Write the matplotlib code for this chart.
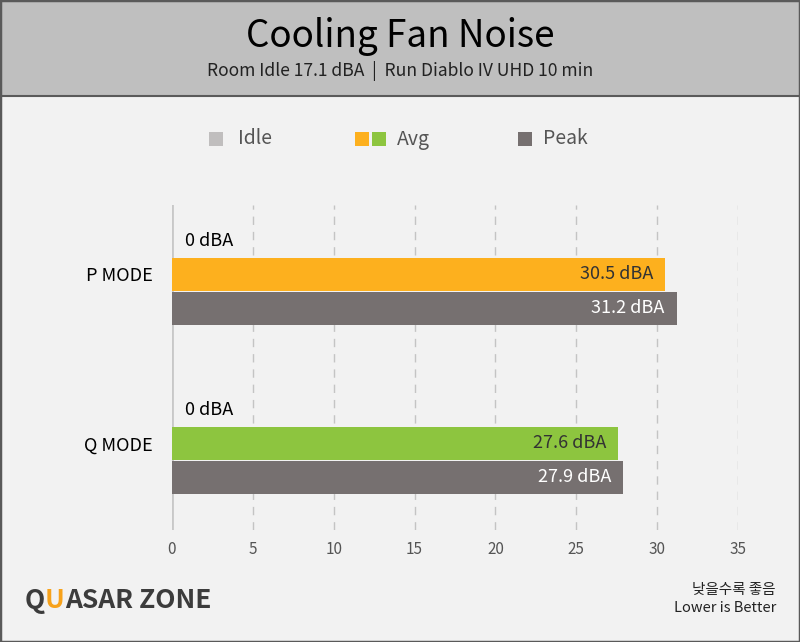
import matplotlib
matplotlib.use("Agg")
import matplotlib.pyplot as plt
from matplotlib.patches import Rectangle

plt.rcParams['font.family'] = ['Noto Sans CJK KR', 'DejaVu Sans']

categories = ["P MODE", "Q MODE"]
idle_vals = [0, 0]
avg_vals = [30.5, 27.6]
peak_vals = [31.2, 27.9]
avg_colors = ["#FDB01E", "#8DC53F"]
peak_color = "#767070"
idle_color = "#C0BEBE"
xticks = [0, 5, 10, 15, 20, 25, 30, 35]

W, H = 800, 642
fig = plt.figure(figsize=(W / 100, H / 100), dpi=100)
fig.patch.set_facecolor("#F2F2F2")

def fx(px):
    return px / W

def fy(py):
    return 1 - py / H

# header band
fig.patches.append(Rectangle((0, fy(96)), 1, 96 / H, transform=fig.transFigure,
                             facecolor="#BFBFBF", edgecolor="none", zorder=0))
fig.lines.append(plt.Line2D([0, 1], [fy(96), fy(96)], transform=fig.transFigure,
                            color="#5A5A5A", lw=1.5))
# outer border
fig.patches.append(Rectangle((0, 0), 1, 1, transform=fig.transFigure,
                             facecolor="none", edgecolor="#5A5A5A", lw=2.5, zorder=10))

fig.text(0.5, fy(37), "Cooling Fan Noise", ha="center", va="center",
         fontsize=26.5, color="#000000")
fig.text(0.5, fy(71), "Room Idle 17.1 dBA  |  Run Diablo IV UHD 10 min", ha="center",
         va="center", fontsize=12.6, color="#222222")

# legend
ly = fy(139)
sq = 14
def square(xc, color):
    fig.patches.append(Rectangle((fx(xc - sq / 2), fy(139 + sq / 2)), sq / W, sq / H,
                                 transform=fig.transFigure, facecolor=color,
                                 edgecolor="none"))
square(216, idle_color)
square(362, avg_colors[0])
square(379, avg_colors[1])
square(525, peak_color)
fig.text(fx(238), ly, "Idle", ha="left", va="center", fontsize=14, color="#555555")
fig.text(fx(397), ly, "Avg", ha="left", va="center", fontsize=14, color="#555555")
fig.text(fx(543), ly, "Peak", ha="left", va="center", fontsize=14, color="#555555")

# axes
left, right, top, bottom = 172, 738, 205, 530
ax = fig.add_axes([fx(left), fy(bottom), (right - left) / W, (bottom - top) / H])
ax.set_facecolor("none")
for s in ax.spines.values():
    s.set_visible(False)

ypos = [0, 1]
bh = 0.195
off = 0.2
for i, cat in enumerate(categories):
    ax.barh(ypos[i] - off, idle_vals[i], height=bh, color=idle_color, zorder=3)
    ax.barh(ypos[i], avg_vals[i], height=bh, color=avg_colors[i], zorder=3)
    ax.barh(ypos[i] + off, peak_vals[i], height=bh, color=peak_color, zorder=3)
    ax.text(idle_vals[i] + 0.8, ypos[i] - off, f"{idle_vals[i]:g} dBA", ha="left",
            va="center", fontsize=13, color="#000000", zorder=4)
    ax.text(avg_vals[i] - 0.75, ypos[i], f"{avg_vals[i]} dBA", ha="right",
            va="center", fontsize=13, color="#333333", zorder=4)
    ax.text(peak_vals[i] - 0.75, ypos[i] + off, f"{peak_vals[i]} dBA", ha="right",
            va="center", fontsize=13, color="#FFFFFF", zorder=4)

ax.set_xlim(0, 35)
ax.set_ylim(1.512, -0.41)
ax.set_xticks(xticks)
ax.set_xticklabels([str(t) for t in xticks], fontsize=11, color="#555555")
ax.tick_params(axis="x", length=0, pad=8)
ax.set_yticks(ypos)
ax.set_yticklabels(categories, fontsize=13, color="#000000")
ax.tick_params(axis="y", length=0, pad=14)
for t in xticks[1:]:
    ax.axvline(t, color="#C4C4C4", lw=1, ls=(0, (6, 5)), zorder=1)
ax.axvline(0, color="#C8C8C8", lw=2, zorder=1)

# footer
fig.text(fx(776), fy(590), "낮을수록 좋음", ha="right", va="center", fontsize=10.5, color="#222222")
fig.text(fx(776), fy(608), "Lower is Better", ha="right", va="center", fontsize=10.5, color="#222222")

# logo
lx = 25
fig.text(fx(lx), fy(600), "Q", ha="left", va="center", fontsize=19,
         fontweight="bold", color="#3C3C3C")
fig.text(fx(lx + 20), fy(600), "U", ha="left", va="center", fontsize=19,
         fontweight="bold", color="#F7A21B")
fig.text(fx(lx + 40), fy(600), "ASAR ZONE", ha="left", va="center", fontsize=19,
         fontweight="bold", color="#3C3C3C")

fig.savefig("out.png", dpi=100, facecolor=fig.get_facecolor())
